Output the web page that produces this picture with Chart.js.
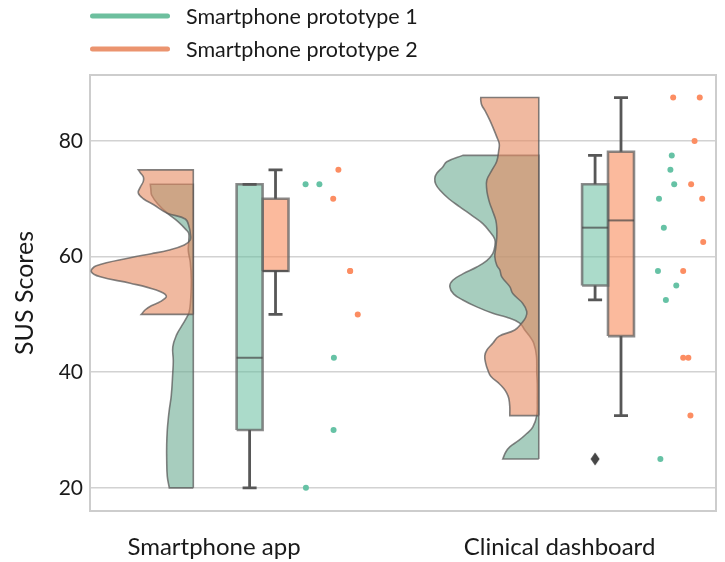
<!DOCTYPE html>
<html>
<head>
<meta charset="utf-8">
<script src="https://cdn.jsdelivr.net/npm/chart.js@4.4.1/dist/chart.umd.min.js"></script>
<style>
  html, body { margin: 0; padding: 0; background: #fff; }
</style>
</head>
<body>
<canvas id="myChart" width="725" height="562"></canvas>
<script>
const categories = ['Smartphone app', 'Clinical dashboard'];
const seriesNames = ['Smartphone prototype 1', 'Smartphone prototype 2'];
const yTicks = [20, 40, 60, 80];

// SUS scores, one per participant
const appScores1 = [20, 30, 42.5, 72.5, 72.5];
const appScores2 = [50, 57.5, 57.5, 70, 75];
const dashScores1 = [25, 52.5, 55, 57.5, 65, 70, 72.5, 75, 77.5];
const dashScores2 = [32.5, 42.5, 42.5, 57.5, 62.5, 70, 72.5, 80, 87.5, 87.5];

// horizontal jitter of the strip dots, same order as the scores
const appJitter1 = [0.266, 0.346, 0.347, 0.265, 0.305];
const appJitter2 = [0.416, 0.394, 0.394, 0.345, 0.360];
const dashJitter1 = [0.292, 0.308, 0.338, 0.285, 0.302, 0.288, 0.332, 0.321, 0.325];
const dashJitter2 = [0.379, 0.358, 0.373, 0.358, 0.416, 0.413, 0.381, 0.391, 0.329, 0.406];

// half violin density, [score, density]
const appDensity1 = [[20, .24], [22, .26], [25, .266], [27.5, .266], [30, .26], [32, .25], [33.5, .24], [36, .22],
  [40, .205], [42, .20], [44.4, .205], [46.5, .166], [48, .116], [50, .05], [51, .035], [53, .025], [56, .02],
  [59, .03], [61, .05], [62.8, .045], [64, .045], [64.6, .07], [66, .15], [67.5, .26], [69, .35], [70.6, .416],
  [71.7, .425], [72.5, .43]];
const appDensity2 = [[50, .52], [50.8, .48], [51.5, .42], [52.2, .33], [53.2, .27], [54.2, .37], [55.4, .63],
  [56.5, .93], [57.4, 1.02], [58.4, .97], [59.8, .63], [60.5, .42], [61.1, .25], [62, .09], [62.9, .03], [64, .03],
  [65, .04], [66.5, .08], [67.5, .26], [69, .40], [70, .50], [71, .55], [72, .53], [73, .50], [73.8, .50],
  [74.5, .53], [75, .55]];
const dashDensity1 = [[25, .36], [26.2, .33], [27.1, .29], [28.2, .20], [29.4, .12], [30.5, .06], [32.5, .02],
  [35, .015], [38, .015], [40, .02], [42.8, .023], [45, .05], [46.2, .09], [47.3, .14], [48.5, .19], [49.5, .32],
  [50.2, .46], [51.3, .62], [52.5, .76], [53.5, .85], [54.8, .89], [55.9, .86], [57, .76], [58.2, .62], [59.3, .52],
  [60.5, .46], [61.7, .44], [63, .44], [64.5, .50], [65.7, .56], [67, .66], [68.6, .79], [70, .90], [71.5, .99],
  [72.5, 1.03], [73.5, 1.04], [74.4, 1.02], [75.5, .96], [76.4, .92], [77.5, .76]];
const dashDensity2 = [[32.5, .29], [34.1, .29], [35.5, .30], [36.4, .32], [37.2, .35], [38.1, .40], [39.3, .48],
  [40.4, .51], [41.5, .53], [42.8, .54], [43.8, .52], [45, .46], [46.2, .40], [47.3, .24], [48.5, .17], [49.5, .13],
  [50.5, .12], [51.9, .16], [53.6, .26], [54.8, .29], [56.5, .37], [57.7, .39], [58.5, .42], [60, .44], [61.5, .43],
  [63.4, .42], [65, .42], [66.3, .43], [67.8, .46], [69.2, .49], [70.5, .51], [71.5, .52], [73.2, .52], [74.9, .47],
  [76.5, .42], [78.4, .40], [79.5, .395], [80.7, .42], [82, .45], [83.6, .49], [85, .53], [86.2, .57], [87, .58],
  [87.5, .58]];

const groups = [
  { scores: [appScores1, appScores2], jitter: [appJitter1, appJitter2], density: [appDensity1, appDensity2] },
  { scores: [dashScores1, dashScores2], jitter: [dashJitter1, dashJitter2], density: [dashDensity1, dashDensity2] }
];

// layout in x-axis units (one unit between the two categories)
const VIOLIN_BASE = -0.06;
const DENSITY_SCALE = 0.2894;
const BOX_OFFSET = [0.103, 0.178];
const BOX_HALF = 0.0376;
const CAP_HALF = 0.0203;

const VIOLIN_FILL = ['rgba(108,172,146,0.6)', 'rgba(230,138,97,0.6)'];
const BOX_FILL = ['rgba(102,190,158,0.55)', 'rgba(248,140,92,0.6)'];
const DOT_COLOR = ['#66c2a5', '#fc8d62'];
const LEGEND_COLOR = ['#6dbf9e', '#eb946f'];
const FONT = 'Lato, "Open Sans", sans-serif';

// thin diamond marker for the outliers
const diamond = document.createElement('canvas');
diamond.width = 10;
diamond.height = 14;
(() => {
  const c = diamond.getContext('2d');
  c.fillStyle = '#454545';
  c.beginPath();
  c.moveTo(5, 0.5); c.lineTo(9.5, 7); c.lineTo(5, 13.5); c.lineTo(0.5, 7);
  c.closePath();
  c.fill();
})();

function quantile(s, q) {
  const pos = (s.length - 1) * q;
  const lo = Math.floor(pos), hi = Math.ceil(pos);
  return s[lo] + (s[hi] - s[lo]) * (pos - lo);
}

function boxStats(values) {
  const s = [...values].sort((a, b) => a - b);
  const q1 = quantile(s, 0.25), med = quantile(s, 0.5), q3 = quantile(s, 0.75);
  const iqr = q3 - q1;
  const inside = s.filter(v => v >= q1 - 1.5 * iqr && v <= q3 + 1.5 * iqr);
  return { q1, med, q3, lo: inside[0], hi: inside[inside.length - 1], out: s.filter(v => !inside.includes(v)) };
}

// closed outline of a half violin; corners are doubled so the spline keeps them sharp
function violinPoints(cx, prof) {
  const base = cx + VIOLIN_BASE;
  const first = prof[0], last = prof[prof.length - 1];
  const pts = [];
  const corner = (x, y) => { pts.push({ x, y }, { x, y }); };
  corner(base, first[0]);
  corner(base - first[1] * DENSITY_SCALE, first[0]);
  for (let i = 1; i < prof.length - 1; i++) {
    pts.push({ x: base - prof[i][1] * DENSITY_SCALE, y: prof[i][0] });
  }
  corner(base - last[1] * DENSITY_SCALE, last[0]);
  corner(base, last[0]);
  pts.push({ x: base, y: first[0] });
  return pts;
}

const datasets = [];
groups.forEach((g, gi) => {
  [0, 1].forEach(s => {
    const st = boxStats(g.scores[s]);
    const cx = gi + BOX_OFFSET[s];
    const gap = { x: cx, y: null };
    datasets.push({
      type: 'line', label: seriesNames[s] + ' violin', order: 21 - s,
      data: violinPoints(gi, g.density[s]),
      fill: 'shape', backgroundColor: VIOLIN_FILL[s],
      borderColor: 'rgba(90,90,90,0.75)', borderWidth: 1.6, tension: 0.4, pointRadius: 0
    });
    datasets.push({
      type: 'line', label: seriesNames[s] + ' box', order: 10,
      data: [{ x: cx - BOX_HALF, y: st.q1 }, { x: cx + BOX_HALF, y: st.q1 }, { x: cx + BOX_HALF, y: st.q3 },
             { x: cx - BOX_HALF, y: st.q3 }, { x: cx - BOX_HALF, y: st.q1 }],
      fill: 'shape', backgroundColor: BOX_FILL[s],
      borderColor: 'rgba(100,100,100,0.75)', borderWidth: 2.6, tension: 0, pointRadius: 0
    });
    datasets.push({
      type: 'line', label: seriesNames[s] + ' whiskers', order: 9,
      data: [{ x: cx, y: st.lo }, { x: cx, y: st.q1 }, gap, { x: cx, y: st.q3 }, { x: cx, y: st.hi }, gap,
             { x: cx - CAP_HALF, y: st.lo }, { x: cx + CAP_HALF, y: st.lo }, gap,
             { x: cx - CAP_HALF, y: st.hi }, { x: cx + CAP_HALF, y: st.hi }],
      fill: false, borderColor: '#575757', borderWidth: 2.8, tension: 0, pointRadius: 0
    });
    datasets.push({
      type: 'line', label: seriesNames[s] + ' median', order: 8,
      data: [{ x: cx - BOX_HALF, y: st.med }, { x: cx + BOX_HALF, y: st.med }],
      fill: false, borderColor: 'rgba(70,70,70,0.7)', borderWidth: 2, tension: 0, pointRadius: 0
    });
    if (st.out.length) {
      datasets.push({
        type: 'scatter', label: seriesNames[s] + ' outliers', order: 7,
        data: st.out.map(v => ({ x: cx, y: v })),
        pointStyle: diamond, pointRadius: 6
      });
    }
    datasets.push({
      type: 'scatter', label: seriesNames[s], order: 1,
      data: g.scores[s].map((v, i) => ({ x: gi + g.jitter[s][i], y: v })),
      pointRadius: 3, backgroundColor: DOT_COLOR[s], borderWidth: 0
    });
  });
});

const framePlugin = {
  id: 'frame',
  beforeDatasetsDraw(chart) {
    const { ctx, chartArea: a } = chart;
    ctx.save();
    ctx.strokeStyle = '#cdcdcd';
    ctx.lineWidth = 2;
    ctx.strokeRect(a.left, a.top, a.right - a.left, a.bottom - a.top);
    ctx.restore();
  }
};

const legendPlugin = {
  id: 'lineLegend',
  afterDraw(chart) {
    const ctx = chart.ctx;
    ctx.save();
    ctx.font = '21.5px ' + FONT;
    ctx.textBaseline = 'alphabetic';
    seriesNames.forEach((name, i) => {
      const y = 16 + i * 33;
      ctx.strokeStyle = LEGEND_COLOR[i];
      ctx.lineWidth = 5;
      ctx.lineCap = 'round';
      ctx.beginPath();
      ctx.moveTo(92.5, y);
      ctx.lineTo(167.5, y);
      ctx.stroke();
      ctx.fillStyle = '#1a1a1a';
      ctx.fillText(name, 186, y + 7.5);
    });
    ctx.restore();
  }
};

Chart.defaults.font.family = FONT;
Chart.defaults.color = '#1a1a1a';

new Chart(document.getElementById('myChart'), {
  type: 'scatter',
  data: { datasets },
  options: {
    responsive: false,
    animation: false,
    events: [],
    layout: { padding: { top: 75, right: 9, left: 0, bottom: 0 } },
    plugins: { legend: { display: false }, tooltip: { enabled: false } },
    scales: {
      x: {
        type: 'linear', min: -0.359, max: 1.453,
        grid: { display: false }, border: { display: false },
        afterBuildTicks: axis => { axis.ticks = categories.map((c, i) => ({ value: i })); },
        afterFit: axis => { axis.height = 51; },
        ticks: { callback: v => categories[v] ?? '', font: { size: 24 }, padding: 14, maxRotation: 0, autoSkip: false }
      },
      y: {
        min: 16, max: 91.4,
        afterBuildTicks: axis => { axis.ticks = yTicks.map(v => ({ value: v })); },
        afterFit: axis => { axis.width = 90; },
        grid: { color: '#d2d2d2', lineWidth: 1.5, drawTicks: false },
        border: { display: false },
        ticks: { font: { size: 21 }, padding: 7 },
        title: { display: true, text: 'SUS Scores', font: { size: 25 }, padding: { top: 10, bottom: 0 } }
      }
    }
  },
  plugins: [framePlugin, legendPlugin]
});
</script>
</body>
</html>
